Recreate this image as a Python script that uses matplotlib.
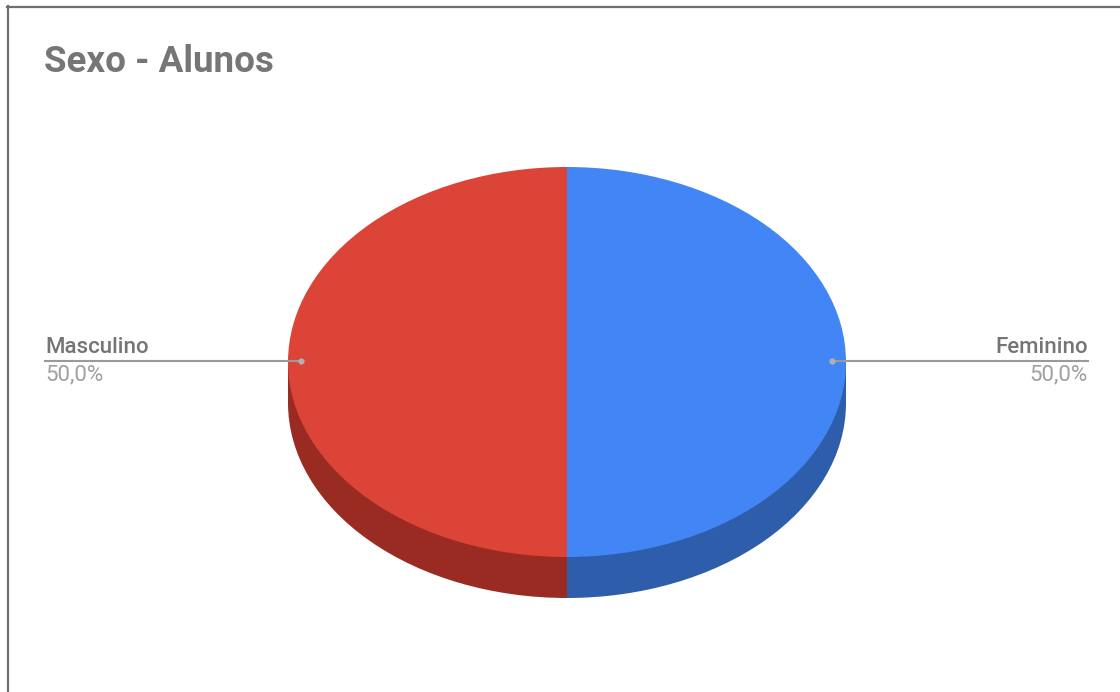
import matplotlib
matplotlib.use("Agg")
from matplotlib import pyplot as plt
from matplotlib.lines import Line2D
from matplotlib.patches import Rectangle
import numpy as np

plt.rcParams['font.family'] = ['Roboto', 'DejaVu Sans']

title = "Sexo - Alunos"
labels = ["Feminino", "Masculino"]
values = [50.0, 50.0]
colors = ["#4285f4", "#db4437"]
side_colors = ["#2d5dab", "#9a2b22"]

W, H = 1120, 692
fig = plt.figure(figsize=(W / 100, H / 100), dpi=100)
fig.patch.set_facecolor("white")

# pie geometry in pixels (top ellipse + depth)
cx, cy = 567, 362
rx, ry = 279, 195
depth = 41
d = depth / ry

ax = fig.add_axes([(cx - rx) / W, (H - (cy + ry + depth)) / H,
                   2 * rx / W, (2 * ry + depth) / H])

# side of the pie: shifted pie plus band between the two ellipses
ax.pie(values, colors=side_colors, startangle=90, counterclock=False,
       center=(0, -d), radius=1, wedgeprops=dict(linewidth=0))
total = sum(values)
start = 0.0
for v, c in zip(values, side_colors):
    a0 = np.pi / 2 - 2 * np.pi * start / total
    a1 = np.pi / 2 - 2 * np.pi * (start + v) / total
    t = np.linspace(a1, a0, 200)
    xs = np.cos(t)
    ys = np.sin(t)
    lower = ys <= 0
    if lower.any():
        xl = xs[lower]
        ax.add_patch(Rectangle((xl.min(), -d), xl.max() - xl.min(), d,
                               facecolor=c, edgecolor="none"))
    start += v
wedges, _ = ax.pie(values, colors=colors, startangle=90, counterclock=False,
                   center=(0, 0), radius=1, wedgeprops=dict(linewidth=0))
ax.set_aspect("auto")
ax.set_xlim(-1, 1)
ax.set_ylim(-1 - d, 1)
ax.axis("off")

# overlay in pixel coords for labels, leader lines, border
ov = fig.add_axes([0, 0, 1, 1], facecolor="none")
ov.set_xlim(0, W)
ov.set_ylim(H, 0)
ov.axis("off")

ov.add_line(Line2D([7.5, 7.5], [6, H], color="#6f6f6f", lw=1.6))
ov.add_line(Line2D([7, W], [6.5, 6.5], color="#6f6f6f", lw=1.6))

ov.text(44, 62, title, fontsize=26.5, fontweight="bold", color="#767676",
        va="center", ha="left")

line_y = 361
pct = [f"{v:.1f}%".replace(".", ",") for v in values]
# Feminino (right side)
ov.add_line(Line2D([cx + rx - 14, 1088], [line_y, line_y], color="#9a9a9a", lw=1.5))
ov.plot([cx + rx - 14], [line_y], "o", ms=4.5, color="#b0b0b0", mec="none")
ov.text(1088, line_y - 3, labels[0], fontsize=16, fontweight="medium",
        color="#757575", ha="right", va="bottom")
ov.text(1088, line_y + 3, pct[0],
        fontsize=16, color="#a0a0a0", ha="right", va="top")
# Masculino (left side)
ov.add_line(Line2D([45, cx - rx + 13], [line_y, line_y], color="#9a9a9a", lw=1.5))
ov.plot([cx - rx + 13], [line_y], "o", ms=4.5, color="#b0b0b0", mec="none")
ov.text(45, line_y - 3, labels[1], fontsize=16, fontweight="medium",
        color="#757575", ha="left", va="bottom")
ov.text(45, line_y + 3, pct[1],
        fontsize=16, color="#a0a0a0", ha="left", va="top")

fig.savefig("out.png", dpi=100)
